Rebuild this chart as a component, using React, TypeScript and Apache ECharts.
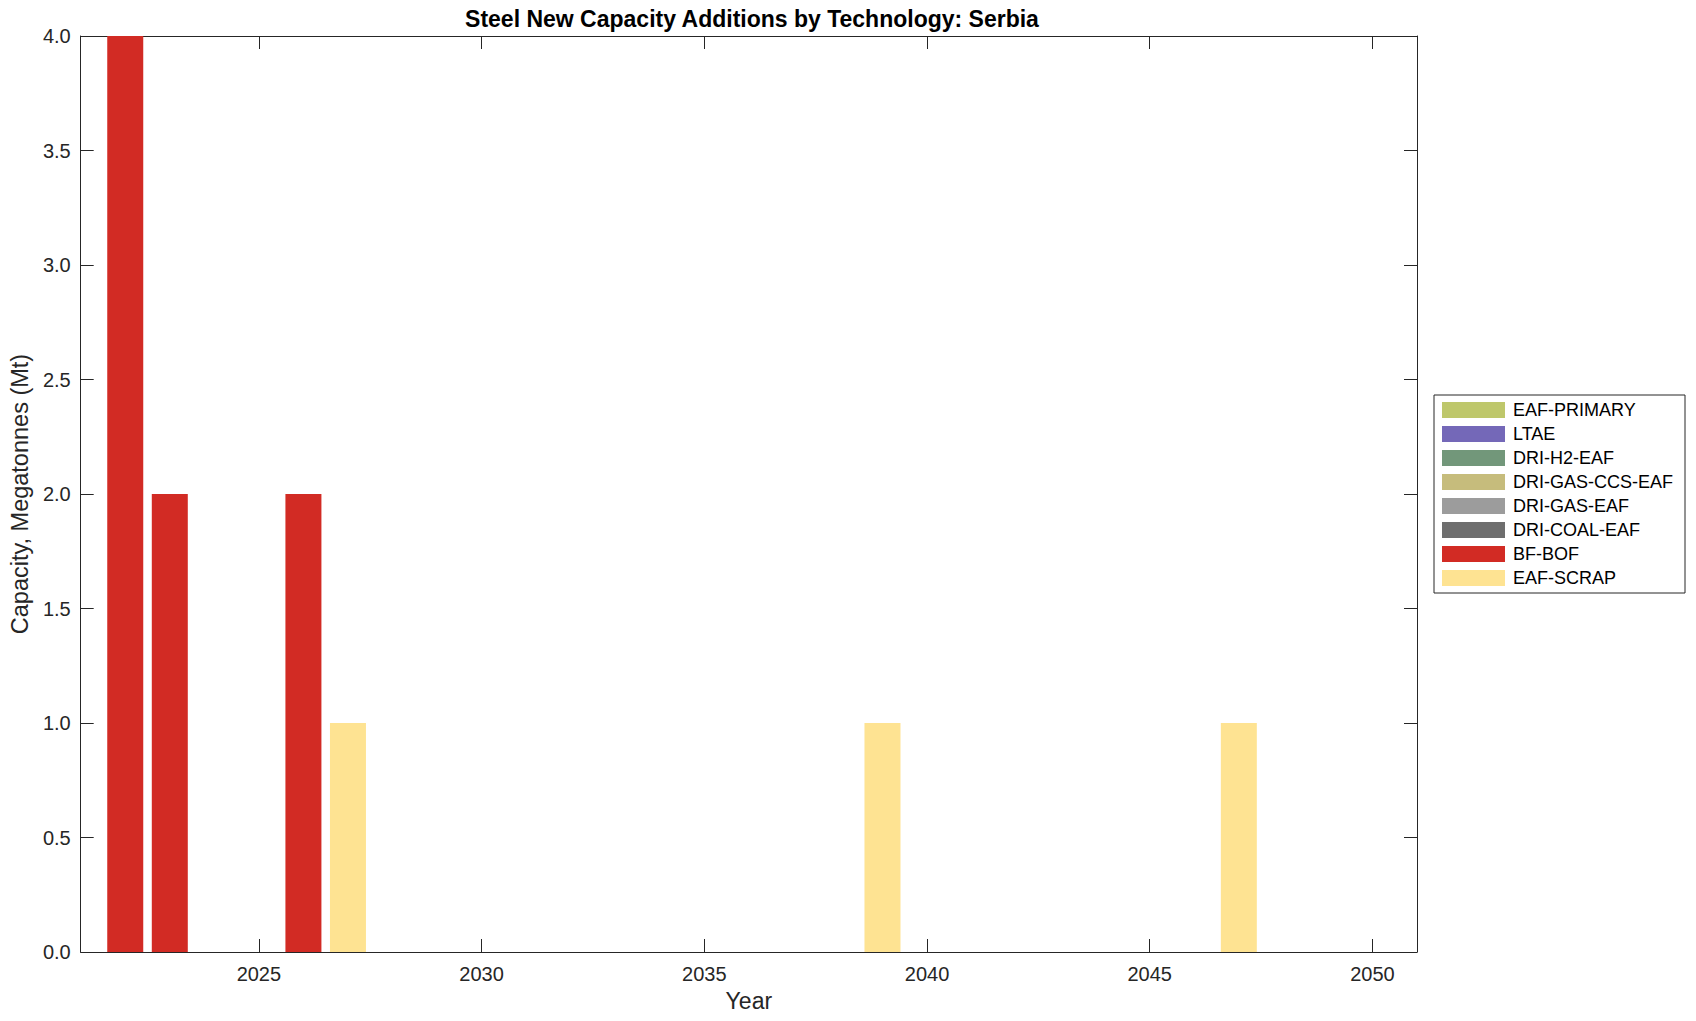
import React, { useEffect, useRef } from "react";
import * as echarts from "echarts";

const years = [2022, 2023, 2024, 2025, 2026, 2027, 2028, 2029, 2030, 2031, 2032, 2033, 2034, 2035, 2036, 2037, 2038, 2039, 2040, 2041, 2042, 2043, 2044, 2045, 2046, 2047, 2048, 2049, 2050];

const eafPrimary = [0, 0, 0, 0, 0, 0, 0, 0, 0, 0, 0, 0, 0, 0, 0, 0, 0, 0, 0, 0, 0, 0, 0, 0, 0, 0, 0, 0, 0];
const ltae = [0, 0, 0, 0, 0, 0, 0, 0, 0, 0, 0, 0, 0, 0, 0, 0, 0, 0, 0, 0, 0, 0, 0, 0, 0, 0, 0, 0, 0];
const driH2Eaf = [0, 0, 0, 0, 0, 0, 0, 0, 0, 0, 0, 0, 0, 0, 0, 0, 0, 0, 0, 0, 0, 0, 0, 0, 0, 0, 0, 0, 0];
const driGasCcsEaf = [0, 0, 0, 0, 0, 0, 0, 0, 0, 0, 0, 0, 0, 0, 0, 0, 0, 0, 0, 0, 0, 0, 0, 0, 0, 0, 0, 0, 0];
const driGasEaf = [0, 0, 0, 0, 0, 0, 0, 0, 0, 0, 0, 0, 0, 0, 0, 0, 0, 0, 0, 0, 0, 0, 0, 0, 0, 0, 0, 0, 0];
const driCoalEaf = [0, 0, 0, 0, 0, 0, 0, 0, 0, 0, 0, 0, 0, 0, 0, 0, 0, 0, 0, 0, 0, 0, 0, 0, 0, 0, 0, 0, 0];
const bfBof = [4, 2, 0, 0, 2, 0, 0, 0, 0, 0, 0, 0, 0, 0, 0, 0, 0, 0, 0, 0, 0, 0, 0, 0, 0, 0, 0, 0, 0];
const eafScrap = [0, 0, 0, 0, 0, 1, 0, 0, 0, 0, 0, 0, 0, 0, 0, 0, 0, 1, 0, 0, 0, 0, 0, 0, 0, 1, 0, 0, 0];

const techNames = ["EAF-PRIMARY", "LTAE", "DRI-H2-EAF", "DRI-GAS-CCS-EAF", "DRI-GAS-EAF", "DRI-COAL-EAF", "BF-BOF", "EAF-SCRAP"];
const techValues = [eafPrimary, ltae, driH2Eaf, driGasCcsEaf, driGasEaf, driCoalEaf, bfBof, eafScrap];
const techColors = ["#bec76b", "#7468b8", "#72977a", "#c6bc7c", "#9c9c9c", "#6e6e6e", "#d22b24", "#fee392"];

const xTickValues = [2025, 2030, 2035, 2040, 2045, 2050];
const titleText = "Steel New Capacity Additions by Technology: Serbia";
const xName = "Year";
const yName = "Capacity, Megatonnes (Mt)";

const FONT = "'Liberation Sans', Arial, Helvetica, sans-serif";
const AX = "#262626";

export default function App() {
  const ref = useRef<HTMLDivElement>(null);
  useEffect(() => {
    if (!ref.current) return;
    const chart = echarts.init(ref.current, undefined, { renderer: "svg" });
    const series = techNames.map((name, k) => ({
      name,
      type: "bar",
      stack: "total",
      xAxisIndex: 0,
      yAxisIndex: 0,
      barWidth: 36,
      itemStyle: { color: techColors[k] },
      data: years.map((y, i) => [y, techValues[k][i]]),
    }));
    const xCommon = {
      type: "value",
      min: 2021,
      max: 2051,
      splitLine: { show: false },
      axisLine: { show: true, onZero: false, lineStyle: { color: AX, width: 1 } },
      axisTick: { show: true, inside: true, length: 13, customValues: xTickValues, lineStyle: { color: AX } },
    };
    const yCommon = {
      type: "value",
      min: 0,
      max: 4,
      interval: 0.5,
      splitLine: { show: false },
      axisLine: { show: true, onZero: false, lineStyle: { color: AX, width: 1 } },
      axisTick: { show: true, inside: true, length: 13, lineStyle: { color: AX } },
    };
    chart.setOption({
      animation: false,
      backgroundColor: "#ffffff",
      title: {
        text: titleText,
        left: 747,
        top: 2,
        textAlign: "center",
        textStyle: { fontFamily: FONT, fontSize: 23, fontWeight: "bold", color: "#000" },
      },
      grid: { left: 77, top: 36, width: 1340, height: 916, containLabel: false },
      legend: {
        orient: "vertical",
        left: 1434,
        top: 395,
        padding: [6, 12, 6, 8],
        itemWidth: 63,
        itemHeight: 16,
        itemGap: 6,
        icon: "rect",
        borderColor: AX,
        borderWidth: 1,
        backgroundColor: "#fff",
        textStyle: { fontFamily: FONT, fontSize: 18, color: "#000", padding: [0, 0, 0, 3] },
        data: techNames,
      },
      xAxis: [
        {
          ...xCommon,
          position: "bottom",
          name: xName,
          nameLocation: "middle",
          nameGap: 37,
          nameTextStyle: { fontFamily: FONT, fontSize: 23, color: AX },
          axisLabel: {
            show: true,
            customValues: xTickValues,
            fontFamily: FONT,
            fontSize: 20,
            color: AX,
            margin: 12,
            formatter: (v: number) => String(v),
          },
        },
        {
          ...xCommon,
          position: "top",
          axisLabel: { show: false },
        },
      ],
      yAxis: [
        {
          ...yCommon,
          position: "left",
          name: yName,
          nameLocation: "middle",
          nameGap: 46,
          nameTextStyle: { fontFamily: FONT, fontSize: 23.5, color: AX },
          axisLabel: {
            show: true,
            fontFamily: FONT,
            fontSize: 20,
            color: AX,
            margin: 10,
            formatter: (v: number) => v.toFixed(1),
          },
        },
        {
          ...yCommon,
          position: "right",
          axisLabel: { show: false },
        },
      ],
      series,
    });
    return () => chart.dispose();
  }, []);
  return (
    <div
      ref={ref}
      style={{ position: "fixed", left: 0, top: 0, width: 1696, height: 1021, background: "#fff" }}
    />
  );
}
